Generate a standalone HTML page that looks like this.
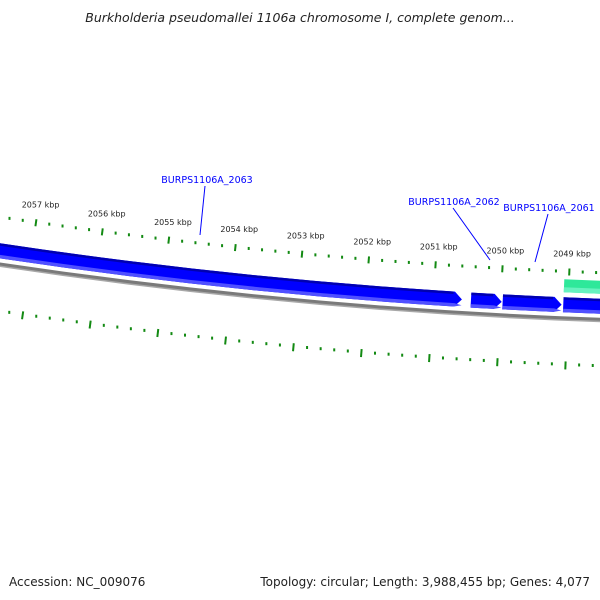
<!DOCTYPE html>
<html><head><meta charset="utf-8"><style>
html,body{margin:0;padding:0;background:#fff;}
svg{display:block;}
text{font-family:"DejaVu Sans","Liberation Sans",sans-serif;}
</style></head><body>
<svg id="map" width="600" height="600" viewBox="0 0 600 600" xmlns="http://www.w3.org/2000/svg">
<text x="300" y="22" text-anchor="middle" font-size="12.5" font-style="italic" fill="#222">Burkholderia pseudomallei 1106a chromosome I, complete genom...</text>
<g id="ticks"></g>
<g id="genes"></g>
<g>
<line x1="205" y1="186" x2="200" y2="235" stroke="#0000ff" stroke-width="1"/>
<text x="207" y="183" text-anchor="middle" font-size="9.5" fill="#0000ff">BURPS1106A_2063</text>
<line x1="453" y1="208" x2="490" y2="260" stroke="#0000ff" stroke-width="1"/>
<text x="454" y="205" text-anchor="middle" font-size="9.5" fill="#0000ff">BURPS1106A_2062</text>
<line x1="548" y1="214" x2="535" y2="262" stroke="#0000ff" stroke-width="1"/>
<text x="549" y="211" text-anchor="middle" font-size="9.5" fill="#0000ff">BURPS1106A_2061</text>
</g>
<text x="9" y="586" font-size="12" fill="#222">Accession: NC_009076</text>
<text x="590" y="586" text-anchor="end" font-size="12" fill="#222">Topology: circular; Length: 3,988,455 bp; Genes: 4,077</text>
</svg>
<script>
// data
const majorTicksKbp = [2058, 2057, 2056, 2055, 2054, 2053, 2052, 2051, 2050, 2049, 2048];
const tickLabels = ["2058 kbp","2057 kbp","2056 kbp","2055 kbp","2054 kbp","2053 kbp","2052 kbp","2051 kbp","2050 kbp","2049 kbp","2048 kbp"];
const geneStarts = [2050575, 2049984, 2049094, 2047000];
const geneEnds   = [2059500, 2050441, 2049970, 2049070];
const geneNames  = ["BURPS1106A_2063","BURPS1106A_2062","BURPS1106A_2061","BURPS1106A_2060"];
const otherStarts = [2047000];
const otherEnds = [2049070];

const NS = "http://www.w3.org/2000/svg";
const cx = 787, cy = -4998, R = 5300;
const theta0 = Math.asin(-751/5274), refBp = 2057000, radPerBp = 1.27e-5;
function ang(bp){ return theta0 - (bp - refBp) * radPerBp; }
function pt(bp, r){ const t = ang(bp); return [cx + r*Math.sin(t), cy + r*Math.cos(t)]; }
function mk(tag, attrs, parent){ const e = document.createElementNS(NS, tag); for (const k in attrs) e.setAttribute(k, attrs[k]); parent.appendChild(e); return e; }

const tg = document.getElementById('ticks');
// minor + major ticks, inner and outer rings
for (let i = 0; i < majorTicksKbp.length; i++) {
  const bp = majorTicksKbp[i]*1000;
  [[R-29, R-22],[R+64, R+72]].forEach(function(rr, j){
    const a = pt(bp, rr[0]), b = pt(bp, rr[1]);
    const l = mk('line', {x1:a[0], y1:a[1], x2:b[0], y2:b[1], stroke:'#138a13', 'stroke-width':2}, tg);
    
    
    for (let m = 1; m < 5; m++) {
      const c = pt(bp - m*200, j ? R+67 : R-26);
      const d = mk('rect', {x:c[0]-1, y:c[1]-1.5, width:2, height:3, fill:'#138a13'}, tg);
      
      
    }
  });
  const lp = pt(bp, R-44);
  const t = mk('text', {x:lp[0]+2, y:lp[1]+3, 'text-anchor':'middle', 'font-size':8, fill:'#222'}, tg);
  t.textContent = tickLabels[i];
  
  
}

const gg = document.getElementById('genes');
function band(b1, b2, r1, r2, fill, arrow, name){
  // b1 > b2 : b1 left, b2 right (arrow points right toward b2)
  const head = arrow ? 110 : 0;
  const p1 = pt(b1, r1), p2 = pt(b2 + head, r1), tip = pt(b2, (r1+r2)/2), p3 = pt(b2 + head, r2), p4 = pt(b1, r2);
  const d = 'M'+p1[0]+','+p1[1]+' A'+r1+','+r1+' 0 0 0 '+p2[0]+','+p2[1]+' L'+tip[0]+','+tip[1]+' L'+p3[0]+','+p3[1]+' A'+r2+','+r2+' 0 0 1 '+p4[0]+','+p4[1]+' Z';
  const e = mk('path', {d:d, fill:fill}, gg);
  
  
  return e;
}
// backbone
band(2060000, 2045000, R+19, R+23, '#7a7a7a', false, 'backbone-line');
band(2060000, 2045000, R+22, R+23.5, '#a8a8a8', false, 'backbone-shadow');
// other feature (teal)
for (let i = 0; i < otherStarts.length; i++) {
  band(otherEnds[i], otherStarts[i], R-18, R-5, '#2ee89a', false, 'feature-teal');
  band(otherEnds[i], otherStarts[i], R-10, R-5, '#66f2bf', false, 'feature-teal-highlight');
}
// genes
for (let i = 0; i < geneStarts.length; i++) {
  band(geneEnds[i], geneStarts[i], R, R+15, '#0000ff', true, 'gene-' + geneNames[i]);
  band(geneEnds[i], geneStarts[i], R+11.5, R+15, '#5050ff', true, 'gene-shade-' + geneNames[i]);
  band(geneEnds[i], geneStarts[i] + 130, R, R+2.5, '#0000b0', false, 'gene-edge-' + geneNames[i]);
}
</script>
</body></html>
